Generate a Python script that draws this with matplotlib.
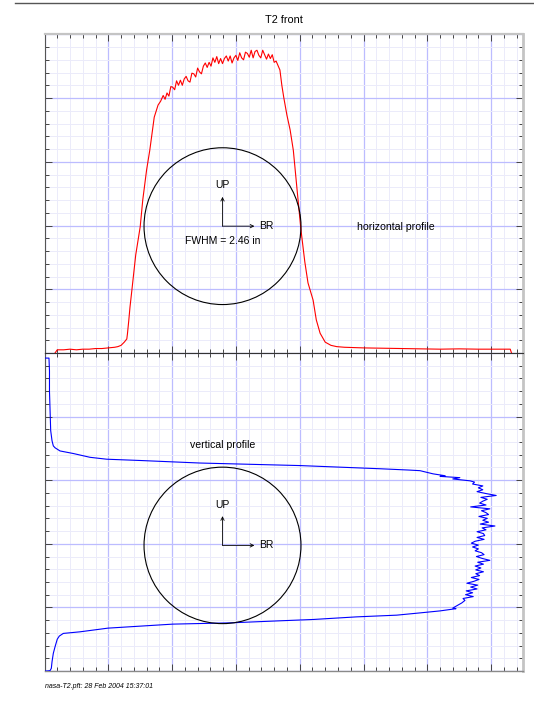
import numpy as np
import matplotlib
matplotlib.use("Agg")
import matplotlib.pyplot as plt
from matplotlib.patches import Circle
from matplotlib.lines import Line2D
from matplotlib.ticker import MultipleLocator

plt.rcParams['font.family'] = ['Liberation Sans', 'DejaVu Sans']

title = "T2 front"
footer = "nasa-T2.pft: 28 Feb 2004 15:37:01"
fwhm_label = "FWHM = 2.46 in"
h_label = "horizontal profile"
v_label = "vertical profile"
up_label = "UP"
br_label = "BR"

x_max = 7.5
y_max = 5.0

# ---- horizontal profile (position [in], intensity) ----
h_rise_pos = [0.165, 0.20, 0.30, 0.40, 0.50, 0.60, 0.70, 0.80, 0.90, 1.00, 1.10, 1.15,
              1.20, 1.25, 1.29, 1.30, 1.32, 1.34, 1.37, 1.43, 1.50, 1.54, 1.60, 1.65,
              1.72, 1.78, 1.82]
h_rise_val = [0.00, 0.05, 0.05, 0.06, 0.05, 0.06, 0.06, 0.07, 0.07, 0.08, 0.09, 0.10,
              0.12, 0.17, 0.22, 0.30, 0.50, 0.72, 0.99, 1.54, 1.98, 2.40, 2.87, 3.18,
              3.70, 3.89, 3.95]
h_top_pos = [1.86, 1.89, 1.92, 1.95, 1.98, 2.01, 2.04, 2.07, 2.10, 2.13, 2.16, 2.19,
             2.22, 2.25, 2.28, 2.31, 2.34, 2.37, 2.40, 2.43, 2.46, 2.49, 2.52, 2.55,
             2.58, 2.61, 2.64, 2.67, 2.70, 2.73, 2.76, 2.79, 2.82, 2.85, 2.88, 2.91,
             2.94, 2.97, 3.00, 3.03, 3.06, 3.09, 3.12, 3.15, 3.18, 3.21, 3.24, 3.27,
             3.30, 3.33, 3.36, 3.39, 3.42, 3.45, 3.48, 3.51, 3.54, 3.57, 3.60, 3.63]
h_top_val = [4.04, 3.98, 4.08, 4.03, 4.18, 4.17, 4.13, 4.27, 4.20, 4.28, 4.20, 4.30,
             4.34, 4.27, 4.25, 4.39, 4.38, 4.33, 4.47, 4.41, 4.38, 4.50, 4.55, 4.48,
             4.56, 4.50, 4.63, 4.56, 4.65, 4.54, 4.62, 4.54, 4.62, 4.66, 4.58, 4.66,
             4.55, 4.63, 4.67, 4.59, 4.71, 4.63, 4.60, 4.72, 4.70, 4.64, 4.75, 4.63,
             4.73, 4.75, 4.67, 4.63, 4.75, 4.68, 4.61, 4.69, 4.62, 4.68, 4.56, 4.58]
h_fall_pos = [3.69, 3.72, 3.75, 3.80, 3.85, 3.90, 3.96, 4.02, 4.08, 4.13, 4.21, 4.26,
              4.32, 4.40, 4.49, 4.58, 4.70, 4.85, 5.00, 5.30, 5.60, 5.90, 6.20, 6.50,
              6.80, 7.10, 7.30, 7.32]
h_fall_val = [4.44, 4.20, 4.01, 3.73, 3.50, 3.18, 2.55, 1.93, 1.43, 1.10, 0.83, 0.52,
              0.31, 0.17, 0.12, 0.10, 0.09, 0.085, 0.08, 0.075, 0.07, 0.065, 0.06, 0.065,
              0.06, 0.06, 0.06, 0.00]

# ---- vertical profile (intensity, position [in]) ----
v_upper_val = [0.0, 0.07, 0.078, 0.078, 0.086, 0.097, 0.118, 0.138, 0.165, 0.243, 0.45,
               0.713, 0.975, 1.497, 2.437, 4.005, 5.26, 5.70, 5.885, 6.09, 6.28, 6.20,
               6.51, 6.40, 6.67]
v_upper_pos = [4.92, 4.92, 4.72, 4.40, 4.14, 3.78, 3.62, 3.54, 3.51, 3.46, 3.42,
               3.36, 3.33, 3.31, 3.27, 3.23, 3.18, 3.16, 3.15, 3.10, 3.07, 3.06,
               3.04, 3.02, 2.99]
v_peak_pos = [2.97, 2.94, 2.91, 2.88, 2.85, 2.82, 2.79, 2.76, 2.73, 2.70, 2.67, 2.64,
              2.61, 2.58, 2.55, 2.52, 2.49, 2.46, 2.43, 2.40, 2.37, 2.34, 2.31, 2.28,
              2.25, 2.22, 2.19, 2.16, 2.13, 2.10, 2.07, 2.04, 2.01, 1.98, 1.95, 1.92,
              1.89, 1.86, 1.83, 1.80, 1.77, 1.74, 1.71, 1.68, 1.65, 1.62, 1.59, 1.56,
              1.53, 1.50, 1.47, 1.44, 1.41, 1.38, 1.35, 1.32, 1.29, 1.26, 1.23, 1.20,
              1.17, 1.14, 1.11]
v_peak_val = [6.74, 6.71, 6.87, 6.80, 6.87, 6.78, 6.92, 7.08, 6.84, 6.94, 6.87, 6.82,
              6.92, 6.68, 6.98, 6.85, 6.92, 6.96, 6.81, 6.94, 6.87, 6.96, 6.83, 7.06,
              6.86, 6.92, 6.78, 6.88, 6.90, 6.78, 6.89, 6.75, 6.69, 6.80, 6.71, 6.80,
              6.75, 6.85, 6.89, 6.77, 6.86, 6.98, 6.79, 6.88, 6.75, 6.84, 6.76, 6.88,
              6.76, 6.82, 6.69, 6.81, 6.73, 6.62, 6.79, 6.68, 6.78, 6.61, 6.71, 6.60,
              6.72, 6.56, 6.59]
v_lower_val = [6.54, 6.40, 6.45, 6.20, 5.89, 5.52, 4.89, 4.21, 3.66, 2.91, 2.01, 0.995,
               0.556, 0.295, 0.232, 0.20, 0.165, 0.138, 0.118, 0.107, 0.086, 0.034, 0.0]
v_lower_pos = [1.07, 0.99, 0.98, 0.945, 0.914, 0.878, 0.851, 0.81, 0.788, 0.757, 0.737,
               0.674, 0.616, 0.591, 0.549, 0.50, 0.38, 0.277, 0.146, 0.042, 0.005, 0.0,
               0.0]

circle_x = 2.79
circle_y_top = 1.99
circle_y_bot = 1.975
circle_r = 1.23

W, H = 534, 702
fig = plt.figure(figsize=(W / 100, H / 100), dpi=100)

ax_top = fig.add_axes([44.5 / W, (H - 353) / H, 478.5 / W, 318.7 / H])
ax_bot = fig.add_axes([44.5 / W, (H - 671) / H, 478.5 / W, 318.0 / H])

for ax in (ax_top, ax_bot):
    ax.set_xlim(0, x_max)
    ax.set_ylim(0, y_max)
    ax.xaxis.set_major_locator(MultipleLocator(1))
    ax.xaxis.set_minor_locator(MultipleLocator(0.2))
    ax.yaxis.set_major_locator(MultipleLocator(1))
    ax.yaxis.set_minor_locator(MultipleLocator(0.2))
    ax.grid(which='minor', color='#ebebfa', lw=0.7)
    ax.grid(which='major', color='#bcbcff', lw=0.9)
    ax.set_axisbelow(True)
    ax.tick_params(which='both', direction='in', top=True, bottom=True, left=True,
                   right=True, labelbottom=False, labelleft=False, color='#444444',
                   width=0.7)
    ax.tick_params(which='major', length=5)
    ax.tick_params(which='minor', length=3)
    ax.spines['left'].set_color('#555555')
    ax.spines['left'].set_linewidth(0.8)
    ax.spines['right'].set_color('#c4c4c4')
    ax.spines['right'].set_linewidth(2.0)

ax_top.spines['top'].set_color('#c4c4c4')
ax_top.spines['top'].set_linewidth(1.6)
ax_top.spines['bottom'].set_color('#333333')
ax_top.spines['bottom'].set_linewidth(0.8)
ax_bot.spines['top'].set_color('#333333')
ax_bot.spines['top'].set_linewidth(0.8)
ax_bot.spines['bottom'].set_color('#8a8a8a')
ax_bot.spines['bottom'].set_linewidth(1.0)

# red horizontal profile
h_pos = h_rise_pos + h_top_pos + h_fall_pos
h_val = h_rise_val + h_top_val + h_fall_val
ax_top.plot(h_pos, h_val, color='#ff0000', lw=0.8, zorder=3)

# blue vertical profile
v_val = v_upper_val + v_peak_val + v_lower_val
v_pos = v_upper_pos + v_peak_pos + v_lower_pos
ax_bot.plot(v_val, v_pos, color='#0000ff', lw=0.8, zorder=3)

arrow_kw = dict(arrowstyle='->', lw=0.6, color='black', shrinkA=0, shrinkB=0,
                mutation_scale=6)
for ax, cy in ((ax_top, circle_y_top), (ax_bot, circle_y_bot)):
    ax.add_patch(Circle((circle_x, cy), circle_r, fill=False, ec='black', lw=0.8,
                        zorder=4))
    ax.annotate('', xy=(circle_x, cy + 0.46), xytext=(circle_x, cy),
                arrowprops=arrow_kw, zorder=5)
    ax.annotate('', xy=(circle_x + 0.50, cy), xytext=(circle_x, cy),
                arrowprops=arrow_kw, zorder=5)
    ax.text(circle_x, cy + 0.64, up_label, ha='center', va='center', fontsize=7.5)
    ax.text(circle_x + 0.58, cy, br_label, ha='left', va='center', fontsize=7.5)

ax_top.text(circle_x, circle_y_top - 0.24, fwhm_label, ha='center', va='center',
            fontsize=7.5)
ax_top.text(4.90, 1.97, h_label, ha='left', va='center', fontsize=7.6)
ax_bot.text(2.28, 3.56, v_label, ha='left', va='center', fontsize=7.6)

fig.text(283.75 / W, 1 - 20 / H, title, ha='center', va='center', fontsize=7.8)
fig.text(45 / W, 1 - 686 / H, footer, ha='left', va='center', fontsize=5.0,
         style='italic')
fig.add_artist(Line2D([15 / W, 1.0], [1 - 3 / H, 1 - 3 / H], color='#555555', lw=1.0))

fig.savefig('out.png', dpi=100)
